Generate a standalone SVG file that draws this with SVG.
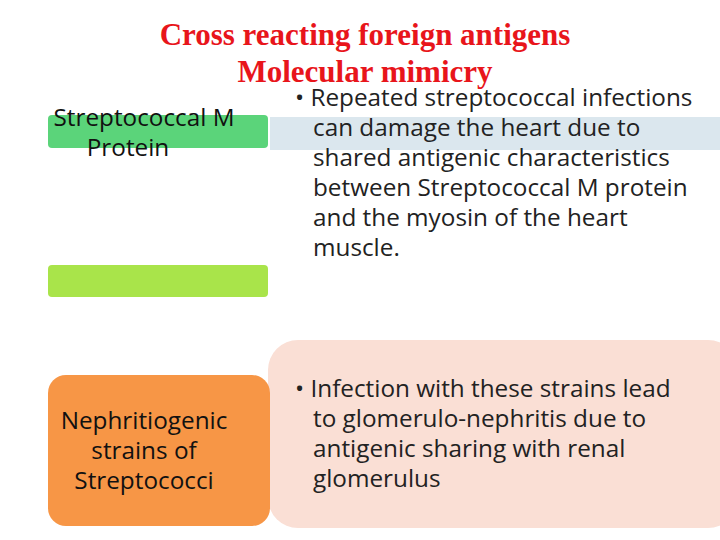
<svg xmlns="http://www.w3.org/2000/svg" width="720" height="540" viewBox="0 0 720 540">
<style>
.t{font-family:"Liberation Serif",serif;font-weight:bold;font-size:31px;fill:#e8151b;text-anchor:middle}
.b{font-family:"Open Sans","Liberation Sans",sans-serif;font-size:24.3px;fill:#222}
.n{font-family:"Open Sans","Liberation Sans",sans-serif;font-size:24.3px;fill:#111;text-anchor:middle}
</style>
<rect width="720" height="540" fill="#fff"/>
<text class="t" x="365" y="45">Cross reacting foreign antigens</text>
<text class="t" x="365" y="82">Molecular mimicry</text>
<g id="blue"><rect x="270" y="117" width="450" height="33" fill="#dbe7ee"/></g>
<g id="peach"><rect x="268" y="340" width="470" height="188" rx="30" fill="#fadfd5"/></g>
<g id="green"><rect x="48" y="115" width="220" height="33" rx="4" fill="#5bd47a"/>
<text class="n" x="144" y="126">Streptococcal M</text><text class="n" x="128" y="156">Protein</text></g>
<g id="lime"><rect x="48" y="265" width="220" height="32" rx="4" fill="#a9e44a"/></g>
<g id="orange"><rect x="48" y="375" width="222" height="151" rx="18" fill="#f79646"/>
<text class="n" x="144" y="429">Nephritiogenic</text><text class="n" x="144" y="459">strains of</text><text class="n" x="144" y="489">Streptococci</text></g>
<g id="bullet1" class="b">
<text x="295" y="106">• Repeated streptococcal infections</text>
<text x="313" y="136">can damage the heart due to</text>
<text x="313" y="166">shared antigenic characteristics</text>
<text x="313" y="196">between Streptococcal M protein</text>
<text x="313" y="226">and the myosin of the heart</text>
<text x="313" y="256">muscle.</text>
</g>
<g id="bullet2" class="b">
<text x="295" y="397">• Infection with these strains lead</text>
<text x="313" y="427">to glomerulo-nephritis due to</text>
<text x="313" y="457">antigenic sharing with renal</text>
<text x="313" y="487">glomerulus</text>
</g>
<g id="connectors"/>
</svg>
